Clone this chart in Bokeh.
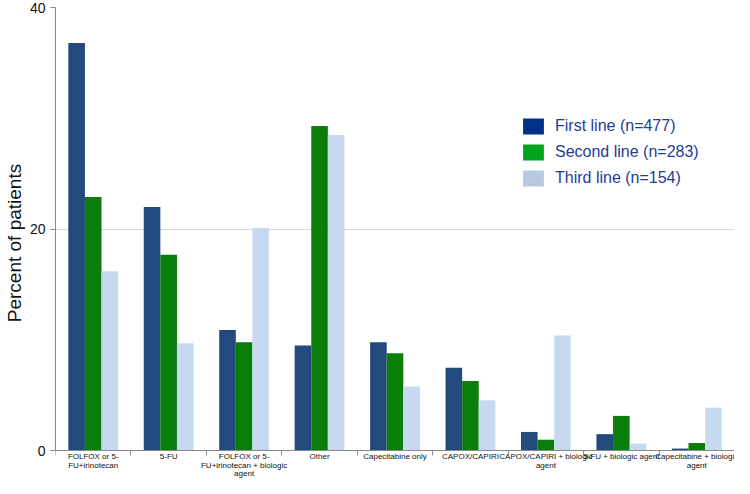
import numpy as np
from bokeh.plotting import figure
from bokeh.models import Range1d, FixedTicker, Legend, LegendItem, ColumnDataSource
from bokeh.core.properties import value
from bokeh.embed import file_html
from bokeh.resources import INLINE

categories = [
    "FOLFOX or 5-\nFU+irinotecan",
    "5-FU",
    "FOLFOX or 5-\nFU+irinotecan + biologic\nagent",
    "Other",
    "Capecitabine only",
    "CAPOX/CAPIRI",
    "CAPOX/CAPIRI + biologic\nagent",
    "5-FU + biologic agent",
    "Capecitabine + biologic\nagent",
]
first_line = [36.8, 22.0, 10.9, 9.5, 9.8, 7.5, 1.7, 1.5, 0.2]
second_line = [22.9, 17.7, 9.8, 29.3, 8.8, 6.3, 1.0, 3.15, 0.7]
third_line = [16.2, 9.7, 20.1, 28.5, 5.8, 4.55, 10.4, 0.65, 3.9]
series_names = ["First line (n=477)", "Second line (n=283)", "Third line (n=154)"]
y_ticks = [0, 20, 40]

bar_colors = ["#234A7C", "#0A7D0A", "#C6D9F1"]
legend_colors = ["#00308A", "#00A31C", "#B9C9E1"]

n = len(categories)
centers = np.arange(n) + 0.5
bw = 0.22
offsets = [-bw, 0.0, bw]

p = figure(width=734, height=478, output_backend="svg", toolbar_location=None,
           x_range=Range1d(0, n), y_range=Range1d(-2.5, 40),
           min_border_left=49, min_border_right=0, min_border_top=7, min_border_bottom=0)
p.outline_line_color = None
p.background_fill_color = "white"

for vals, off, col in zip([first_line, second_line, third_line], offsets, bar_colors):
    src = ColumnDataSource(dict(x=centers + off, top=vals))
    p.vbar(x="x", top="top", width=bw, source=src, fill_color=col, line_color=None)

items = []
for name, col in zip(series_names, legend_colors):
    r = p.vbar(x=[-5], top=[1], width=bw, fill_color=col, line_color=None)
    items.append(LegendItem(label=name, renderers=[r]))

legend = Legend(items=items, location=(465, 290), padding=0, margin=0,
                glyph_width=26, glyph_height=20, spacing=6, label_standoff=9,
                label_text_font="Liberation Sans", label_text_font_size="16px",
                label_text_color="#1F3C96", label_height=20,
                border_line_color=None, background_fill_alpha=0)
p.add_layout(legend)

# category labels, placed under the zero line
line_offsets = [6, 14.5, 23]
lx, lt, lo = [], [], []
for c, lab in zip(centers, categories):
    for j, line in enumerate(lab.split("\n")):
        lx.append(float(c))
        lt.append(line)
        lo.append(line_offsets[j])
p.text(x=lx, y=[0] * len(lx), y_offset=lo, text=lt, text_align="center",
       text_baseline="middle", text_font=value("Liberation Sans"),
       text_font_size=value("8px"), text_color="#111111")

# x axis drawn at y = 0; ticks between categories
p.xaxis.fixed_location = 0
p.xaxis.ticker = FixedTicker(ticks=[], minor_ticks=list(range(n + 1)))
p.xaxis.major_label_standoff = 0
p.xaxis.major_tick_line_color = None
p.xaxis.major_tick_out = 0
p.xaxis.major_tick_in = 0
p.xaxis.minor_tick_line_color = "#898989"
p.xaxis.minor_tick_out = 5
p.xaxis.minor_tick_in = 0
p.xaxis.axis_line_color = "#898989"
p.xgrid.visible = False

# y axis
p.yaxis.ticker = FixedTicker(ticks=y_ticks, minor_ticks=[])
p.yaxis.bounds = (0, 40)
p.yaxis.axis_label = "Percent of patients"
p.yaxis.axis_label_text_font = "Liberation Sans"
p.yaxis.axis_label_text_font_size = "19px"
p.yaxis.axis_label_text_font_style = "normal"
p.yaxis.axis_label_text_color = "#111111"
p.yaxis.axis_label_standoff = 2
p.yaxis.major_label_text_font = "Liberation Sans"
p.yaxis.major_label_text_font_size = "14px"
p.yaxis.major_label_text_color = "#111111"
p.yaxis.major_tick_out = 5
p.yaxis.major_tick_in = 0
p.yaxis.major_tick_line_color = "#898989"
p.yaxis.axis_line_color = "#898989"
p.yaxis.major_label_standoff = 5
p.ygrid.grid_line_color = "#D9D9D9"

open("out.html", "w").write(file_html(p, INLINE))
